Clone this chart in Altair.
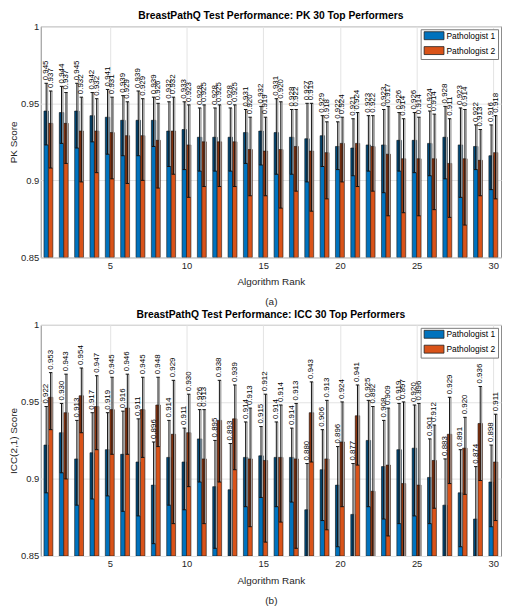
import altair as alt
import pandas as pd

ranks = list(range(1, 31))
groups = ["Pathologist 1", "Pathologist 2"]
colors = ["#0072BD", "#D95319"]

# PK scores
pk_p1 = [0.945, 0.944, 0.945, 0.942, 0.941, 0.939, 0.939, 0.939, 0.932, 0.933,
         0.928, 0.928, 0.928, 0.931, 0.932, 0.931, 0.928, 0.927, 0.929, 0.922,
         0.921, 0.923, 0.923, 0.926, 0.926, 0.924, 0.928, 0.923, 0.922, 0.916]
pk_p2 = [0.937, 0.937, 0.932, 0.932, 0.931, 0.929, 0.929, 0.926, 0.932, 0.923,
         0.925, 0.925, 0.925, 0.920, 0.919, 0.920, 0.922, 0.919, 0.918, 0.924,
         0.924, 0.922, 0.917, 0.914, 0.914, 0.914, 0.911, 0.914, 0.913, 0.918]
pk_p1_hi = [0.963, 0.961, 0.963, 0.957, 0.959, 0.955, 0.958, 0.954, 0.951, 0.951,
            0.947, 0.947, 0.947, 0.946, 0.948, 0.953, 0.946, 0.950, 0.942, 0.938,
            0.940, 0.942, 0.946, 0.944, 0.944, 0.945, 0.948, 0.947, 0.936, 0.936]
pk_p1_lo = [0.923, 0.924, 0.921, 0.925, 0.917, 0.916, 0.916, 0.922, 0.909, 0.907,
            0.906, 0.906, 0.906, 0.911, 0.910, 0.904, 0.904, 0.899, 0.909, 0.907,
            0.903, 0.906, 0.892, 0.906, 0.905, 0.903, 0.901, 0.889, 0.907, 0.894]
pk_p2_hi = [0.958, 0.957, 0.954, 0.953, 0.954, 0.951, 0.953, 0.950, 0.954, 0.949,
            0.949, 0.949, 0.949, 0.941, 0.941, 0.951, 0.946, 0.950, 0.938, 0.941,
            0.944, 0.942, 0.948, 0.940, 0.941, 0.943, 0.940, 0.946, 0.933, 0.942]
pk_p2_lo = [0.908, 0.911, 0.899, 0.905, 0.901, 0.898, 0.900, 0.895, 0.904, 0.889,
            0.896, 0.896, 0.896, 0.890, 0.890, 0.882, 0.893, 0.880, 0.888, 0.899,
            0.896, 0.893, 0.877, 0.879, 0.877, 0.881, 0.876, 0.871, 0.890, 0.888]

# ICC(2,1) scores
icc_p1 = [0.922, 0.930, 0.913, 0.917, 0.919, 0.916, 0.911, 0.896, 0.914, 0.911,
          0.926, 0.895, 0.893, 0.914, 0.915, 0.914, 0.914, 0.880, 0.906, 0.896,
          0.877, 0.925, 0.908, 0.919, 0.920, 0.901, 0.883, 0.891, 0.874, 0.898]
icc_p2 = [0.953, 0.943, 0.954, 0.947, 0.945, 0.946, 0.945, 0.948, 0.929, 0.930,
          0.913, 0.938, 0.939, 0.913, 0.912, 0.914, 0.913, 0.943, 0.913, 0.924,
          0.941, 0.892, 0.909, 0.897, 0.896, 0.912, 0.929, 0.920, 0.936, 0.911]
icc_p1_hi = [0.947, 0.949, 0.938, 0.943, 0.943, 0.944, 0.939, 0.924, 0.938, 0.933,
             0.945, 0.925, 0.923, 0.937, 0.934, 0.937, 0.933, 0.910, 0.932, 0.921,
             0.910, 0.951, 0.938, 0.949, 0.948, 0.926, 0.913, 0.919, 0.908, 0.922]
icc_p1_lo = [0.891, 0.904, 0.883, 0.887, 0.889, 0.879, 0.876, 0.858, 0.883, 0.880,
             0.898, 0.855, 0.849, 0.882, 0.888, 0.882, 0.885, 0.848, 0.873, 0.856,
             0.848, 0.882, 0.874, 0.871, 0.876, 0.871, 0.848, 0.856, 0.848, 0.869]
icc_p2_hi = [0.969, 0.968, 0.972, 0.967, 0.966, 0.968, 0.966, 0.966, 0.964, 0.955,
             0.945, 0.964, 0.961, 0.946, 0.955, 0.948, 0.949, 0.963, 0.951, 0.950,
             0.961, 0.947, 0.946, 0.950, 0.949, 0.935, 0.953, 0.940, 0.960, 0.942]
icc_p2_lo = [0.932, 0.900, 0.930, 0.919, 0.916, 0.916, 0.914, 0.921, 0.871, 0.895,
             0.871, 0.898, 0.906, 0.869, 0.859, 0.872, 0.855, 0.911, 0.867, 0.882,
             0.909, 0.848, 0.863, 0.848, 0.848, 0.881, 0.897, 0.890, 0.899, 0.873]

y_ticks = [0.85, 0.9, 0.95, 1.0]
x_ticks = [5, 10, 15, 20, 25, 30]


def make_df(a1, a2, lo1, hi1, lo2, hi2):
    rows = []
    for i, r in enumerate(ranks):
        rows.append(dict(rank=r, who=groups[0], v=a1[i], lo=lo1[i], hi=hi1[i]))
        rows.append(dict(rank=r, who=groups[1], v=a2[i], lo=lo2[i], hi=hi2[i]))
    return pd.DataFrame(rows)


def make_panel(df, title, ytitle, sub):
    xscale = alt.Scale(domain=[0.5, 30.5], nice=False, zero=False)
    yscale = alt.Scale(domain=[0.85, 1.0], nice=False, zero=False)
    xaxis = alt.Axis(values=x_ticks, title=["Algorithm Rank", sub], grid=True,
                     labelPadding=3, titlePadding=7, titleLineHeight=20)
    yaxis = alt.Axis(values=y_ticks, title=ytitle, grid=True, labelPadding=2,
                     titlePadding=2, format="~g")

    base = alt.Chart(df).transform_calculate(
        side="datum.who == 'Pathologist 1' ? -1 : 1"
    ).transform_calculate(
        xc="datum.rank + datum.side * 0.145",
        xa="datum.side < 0 ? datum.rank - 0.29 : datum.rank",
        xb="datum.side < 0 ? datum.rank : datum.rank + 0.29",
        loc="max(datum.lo, 0.85)",
    ).transform_calculate(
        ca="datum.xc - 0.11",
        cb="datum.xc + 0.11",
    )

    bars = base.mark_rect(stroke="#1a1a1a", strokeWidth=0.6, clip=True).encode(
        x=alt.X("xa:Q", scale=xscale, axis=xaxis),
        x2="xb:Q",
        y=alt.Y("v:Q", scale=yscale, axis=yaxis),
        y2=alt.datum(0.85),
        color=alt.Color("who:N", scale=alt.Scale(domain=groups, range=colors),
                        legend=alt.Legend(
                            orient="top-right", title=None, offset=3,
                            padding=2, strokeColor="#7a7a7a", fillColor="white",
                            labelFontSize=8.5, labelColor="#000000",
                            symbolType="M-2.5,-1H2.5V1H-2.5Z", symbolSize=64,
                            symbolOffset=7, labelOffset=8,
                            symbolStrokeColor="#222222", symbolStrokeWidth=0.8,
                            symbolOpacity=1, rowPadding=2)),
    )

    shade = base.mark_rect(color="black", opacity=0.33, clip=True).encode(
        x=alt.X("xa:Q", scale=xscale, axis=xaxis),
        x2="xb:Q",
        y=alt.Y("loc:Q", scale=yscale, axis=yaxis),
        y2="v:Q",
    )

    shadow = base.mark_rule(color="#a0a0a0", strokeWidth=1.3, xOffset=1.4,
                            clip=True).encode(
        x=alt.X("xc:Q", scale=xscale, axis=xaxis),
        y=alt.Y("lo:Q", scale=yscale, axis=yaxis),
        y2="hi:Q",
    )

    err = base.mark_rule(color="#111111", strokeWidth=1, clip=True).encode(
        x=alt.X("xc:Q", scale=xscale, axis=xaxis),
        y=alt.Y("lo:Q", scale=yscale, axis=yaxis),
        y2="hi:Q",
    )

    cap_hi = base.mark_rule(color="#111111", strokeWidth=1, clip=True).encode(
        x=alt.X("ca:Q", scale=xscale, axis=xaxis),
        x2="cb:Q",
        y=alt.Y("hi:Q", scale=yscale, axis=yaxis),
    )
    cap_lo = base.mark_rule(color="#111111", strokeWidth=1, clip=True).encode(
        x=alt.X("ca:Q", scale=xscale, axis=xaxis),
        x2="cb:Q",
        y=alt.Y("lo:Q", scale=yscale, axis=yaxis),
    )

    labels = base.mark_text(angle=270, align="left", baseline="middle", dx=3,
                            fontSize=8, color="#000000").encode(
        x=alt.X("xc:Q", scale=xscale, axis=xaxis),
        y=alt.Y("hi:Q", scale=yscale, axis=yaxis),
        text=alt.Text("v:Q", format=".3f"),
    )

    return alt.layer(bars, shade, shadow, err, cap_hi, cap_lo, labels).properties(
        width=464, height=233,
        title=alt.TitleParams(title, fontSize=10.4, fontWeight="bold",
                              anchor="middle", offset=0, frame="group",
                              color="#000000"),
    )


pk_df = make_df(pk_p1, pk_p2, pk_p1_lo, pk_p1_hi, pk_p2_lo, pk_p2_hi)
icc_df = make_df(icc_p1, icc_p2, icc_p1_lo, icc_p1_hi, icc_p2_lo, icc_p2_hi)

top = make_panel(pk_df, "BreastPathQ Test Performance: PK 30 Top Performers",
                 "PK Score", "(a)")
bottom = make_panel(icc_df, "BreastPathQ Test Performance: ICC 30 Top Performers",
                    "ICC(2,1) Score", "(b)")

chart = alt.vconcat(top, bottom, spacing=68, bounds="flush").resolve_legend(
    color="independent"
).properties(
    padding={"left": 0, "top": 0, "right": 0, "bottom": 0}
).configure(
    font="Liberation Sans"
).configure_view(
    stroke="#8c8c8c", strokeWidth=1
).configure_axis(
    labelFont="Liberation Sans", labelFontSize=9.5, labelColor="#262626",
    titleFont="Liberation Sans", titleFontSize=10, titleFontWeight="normal",
    titleColor="#262626", gridColor="#e3e3e3", gridWidth=1, domain=False,
    ticks=False,
)

chart.save("out.html", embed_options={"renderer": "svg", "actions": False})
